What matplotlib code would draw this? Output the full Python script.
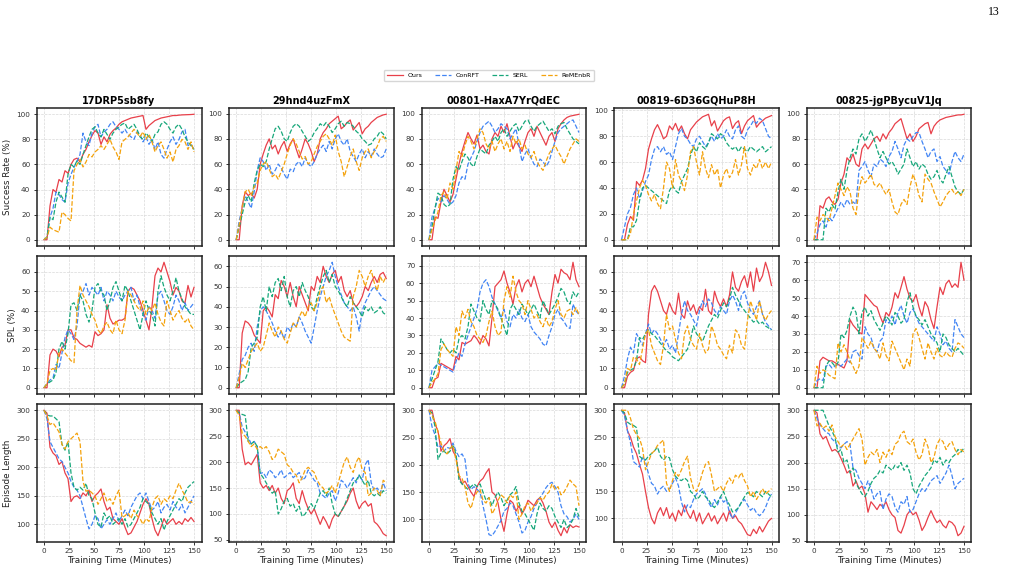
import numpy as np
import matplotlib.pyplot as plt
from matplotlib.ticker import MultipleLocator

minutes = np.arange(0, 151, 3)

methods = ["Ours", "ConRFT", "SERL", "ReMEnbR"]
colors = ["#e8404a", "#4285f4", "#17a77a", "#f4a20c"]
styles = ["-", "--", "--", "--"]

scenes = ["17DRP5sb8fy", "29hnd4uzFmX", "00801-HaxA7YrQdEC",
          "00819-6D36GQHuP8H", "00825-jgPBycuV1Jq"]
metrics = ["Success Rate (%)", "SPL (%)", "Episode Length"]

# ---------------- success rate ----------------
sr_17drp = {
    "Ours": [0, 0, 27, 40, 38, 48, 46, 55, 53, 60,
             64, 65, 62, 68, 72, 78, 83, 87, 85, 76,
             82, 78, 84, 87, 89, 92, 94, 95, 96, 97,
             97.5, 98, 98.5, 99, 88, 91, 93, 95, 96, 97,
             97.5, 98, 98.5, 99, 99, 99.3, 99.5, 99.6, 99.7, 99.8,
             100],
    "ConRFT": [0, 2, 18, 25, 38, 36, 32, 30, 45, 52,
               58, 62, 68, 85, 78, 75, 85, 90, 92, 82,
               86, 88, 92, 94, 90, 88, 85, 88, 84, 82,
               80, 86, 84, 78, 82, 76, 80, 72, 78, 68,
               65, 72, 78, 82, 76, 80, 86, 88, 75, 76,
               72],
    "SERL": [0, 2, 18, 16, 30, 38, 34, 30, 52, 60,
             58, 63, 60, 68, 75, 82, 88, 90, 85, 82,
             88, 84, 80, 85, 88, 90, 92, 93, 88, 90,
             92, 88, 82, 80, 85, 82, 78, 84, 86, 92,
             94, 92, 88, 85, 90, 92, 88, 82, 78, 75,
             72],
    "ReMEnbR": [0, 2, 10, 8, 7, 6, 22, 20, 17, 15,
                55, 60, 64, 58, 62, 68, 66, 70, 72, 75,
                72, 76, 80, 74, 70, 64, 78, 80, 82, 85,
                88, 85, 82, 86, 80, 84, 78, 70, 75, 78,
                72, 65, 70, 62, 72, 75, 80, 78, 72, 78,
                70],
}
sr_29hnd = {
    "Ours": [0, 0, 27, 38, 35, 37, 33, 40, 60, 68,
             75, 80, 72, 75, 68, 74, 78, 70, 76, 80,
             72, 65, 72, 80, 76, 70, 62, 68, 80, 85,
             88, 92, 94, 96, 98, 88, 90, 93, 95, 87,
             90, 93, 84, 88, 90, 93, 95, 97, 98, 99,
             99.5],
    "ConRFT": [0, 15, 25, 35, 30, 25, 38, 55, 65, 62,
               55, 60, 52, 55, 60, 57, 52, 48, 56, 54,
               60, 62, 58, 65, 60, 58, 62, 68, 72, 75,
               70, 78, 72, 80, 84, 78, 75, 80, 70, 66,
               62, 68, 72, 65, 70, 66, 72, 68, 65, 66,
               72],
    "SERL": [0, 10, 20, 30, 35, 30, 45, 55, 60, 58,
             62, 72, 80, 88, 90, 86, 80, 78, 85, 90,
             92, 90, 86, 82, 78, 80, 85, 88, 92, 90,
             93, 90, 85, 88, 92, 94, 90, 93, 92, 90,
             86, 84, 80, 78, 75, 76, 80, 82, 86, 84,
             80],
    "ReMEnbR": [0, 12, 25, 38, 40, 35, 42, 45, 55, 60,
                62, 56, 50, 52, 48, 54, 60, 68, 75, 80,
                76, 70, 64, 66, 60, 62, 68, 74, 78, 82,
                84, 80, 75, 83, 70, 62, 50, 58, 66, 72,
                62, 55, 65, 70, 72, 65, 70, 74, 80, 82,
                78],
}
sr_00801 = {
    "Ours": [0, 0, 18, 17, 30, 40, 35, 30, 36, 48,
             60, 70, 78, 85, 80, 76, 83, 72, 75, 70,
             68, 80, 85, 82, 90, 85, 92, 82, 72, 78,
             74, 70, 78, 85, 88, 82, 90, 85, 80, 75,
             82, 85, 78, 88, 92, 95, 97, 98, 98.5, 99,
             99.5],
    "ConRFT": [0, 18, 25, 33, 30, 35, 32, 28, 30, 35,
               45, 50, 48, 60, 65, 70, 78, 85, 90, 92,
               94, 90, 85, 88, 92, 90, 88, 80, 84, 88,
               75, 62, 68, 72, 65, 60, 58, 64, 62, 58,
               62, 70, 78, 85, 88, 90, 92, 94, 95, 90,
               85],
    "SERL": [0, 10, 25, 37, 35, 28, 26, 28, 48, 58,
             55, 62, 68, 65, 60, 58, 66, 72, 70, 68,
             75, 78, 82, 78, 85, 88, 82, 86, 90, 92,
             86, 90, 94, 95, 90, 86, 90, 92, 94, 90,
             86, 88, 84, 90, 92, 93, 88, 84, 80, 78,
             76],
    "ReMEnbR": [0, 8, 15, 22, 35, 38, 32, 45, 40, 55,
                70, 66, 75, 82, 78, 72, 80, 88, 85, 76,
                72, 78, 70, 76, 80, 72, 78, 70, 82, 76,
                80, 72, 75, 68, 65, 70, 62, 58, 55, 62,
                68, 72, 75, 70, 66, 60, 66, 72, 76, 80,
                78],
}
sr_00819 = {
    "Ours": [0, 0, 12, 18, 15, 45, 42, 46, 55, 70,
             78, 85, 89, 84, 78, 80, 88, 85, 90, 84,
             88, 82, 78, 85, 88, 91, 93, 95, 96, 97,
             88, 92, 84, 88, 92, 94, 95, 86, 90, 92,
             82, 88, 92, 94, 96, 87, 90, 92, 94, 95,
             96],
    "ConRFT": [0, 10, 20, 25, 35, 40, 32, 38, 45, 50,
               62, 70, 72, 68, 72, 66, 68, 62, 72, 82,
               86, 80, 78, 74, 72, 78, 80, 76, 72, 75,
               80, 76, 82, 78, 80, 85, 80, 78, 85, 88,
               80, 78, 85, 88, 92, 90, 94, 92, 86, 80,
               78],
    "SERL": [0, 0, 0, 10, 10, 15, 30, 40, 42, 40,
             38, 36, 34, 32, 30, 28, 38, 42, 38, 36,
             45, 50, 55, 65, 72, 68, 75, 72, 70, 75,
             82, 80, 78, 82, 80, 75, 72, 70, 72, 68,
             72, 70, 68, 72, 70, 68, 70, 72, 68, 70,
             72],
    "ReMEnbR": [0, 0, 0, 5, 20, 30, 40, 46, 42, 35,
                30, 35, 28, 24, 40, 60, 55, 40, 62, 50,
                45, 38, 50, 68, 72, 60, 50, 68, 55, 48,
                58, 50, 55, 40, 50, 55, 48, 52, 62, 50,
                58, 72, 55, 50, 58, 55, 62, 55, 60, 55,
                60],
}
sr_00825 = {
    "Ours": [0, 0, 27, 25, 32, 34, 30, 28, 32, 45,
             52, 65, 62, 68, 60, 58, 72, 76, 72, 76,
             80, 82, 78, 84, 80, 85, 88, 92, 94, 96,
             88, 80, 84, 78, 82, 88, 90, 92, 93, 84,
             90, 93, 95, 96, 97, 97.5, 98, 98.5, 99, 99,
             99.5],
    "ConRFT": [0, 5, 12, 15, 10, 18, 15, 20, 25, 30,
               26, 32, 28, 30, 28, 55, 58, 62, 55, 50,
               60, 58, 64, 62, 58, 66, 70, 78, 72, 65,
               75, 80, 78, 82, 85, 85, 78, 72, 65, 70,
               72, 62, 66, 58, 55, 52, 62, 70, 65, 62,
               68],
    "SERL": [0, 0, 0, 0, 25, 22, 28, 24, 38, 48,
             40, 55, 65, 72, 68, 80, 84, 78, 82, 87,
             80, 72, 65, 70, 65, 60, 62, 58, 52, 56,
             60, 72, 65, 58, 62, 56, 60, 58, 52, 48,
             50, 55, 48, 45, 52, 58, 50, 42, 38, 36,
             40],
    "ReMEnbR": [0, 18, 15, 20, 18, 15, 25, 35, 45, 40,
                35, 42, 38, 25, 20, 40, 50, 45, 48, 52,
                44, 42, 45, 40, 36, 40, 30, 22, 20, 28,
                32, 28, 42, 52, 45, 35, 30, 52, 48, 45,
                38, 32, 26, 30, 35, 38, 40, 36, 38, 35,
                40],
}

# ---------------- SPL ----------------
spl_17drp = {
    "Ours": [0, 0, 17, 20, 19, 16, 21, 22, 30, 30,
             26, 25, 23, 22, 21, 22, 21, 29, 27, 28,
             30, 43, 36, 33, 34, 35, 35, 36, 50, 52,
             51, 48, 45, 40, 35, 30, 42, 58, 62, 60,
             65, 60, 55, 48, 52, 50, 45, 44, 53, 47,
             52],
    "ConRFT": [0, 2, 4, 5, 12, 10, 18, 26, 30, 28,
               25, 32, 48, 50, 54, 48, 52, 50, 48, 52,
               45, 50, 48, 45, 50, 47, 45, 48, 50, 52,
               45, 48, 42, 38, 35, 42, 40, 36, 48, 50,
               45, 40, 38, 42, 48, 45, 40, 44, 40, 42,
               44],
    "SERL": [0, 2, 3, 4, 8, 20, 24, 20, 28, 43,
             44, 40, 48, 45, 38, 34, 40, 52, 54, 50,
             48, 40, 45, 52, 55, 50, 45, 53, 50, 45,
             40, 35, 30, 38, 45, 40, 38, 32, 50, 58,
             52, 48, 45, 50, 57, 50, 46, 42, 40, 38,
             38],
    "ReMEnbR": [0, 2, 9, 10, 9, 18, 20, 18, 16, 14,
                13, 40, 53, 48, 45, 42, 38, 35, 30, 28,
                32, 34, 30, 28, 35, 30, 28, 35, 50, 48,
                45, 42, 40, 45, 38, 42, 40, 44, 38, 34,
                32, 45, 40, 35, 38, 40, 36, 34, 36, 32,
                30],
}
spl_29hnd = {
    "Ours": [0, 0, 27, 33, 32, 30, 26, 24, 22, 38,
             40, 38, 35, 46, 44, 53, 50, 45, 52, 45,
             40, 50, 46, 42, 38, 50, 48, 55, 52, 60,
             55, 52, 56, 58, 52, 55, 48, 45, 48, 42,
             40, 42, 45, 50, 48, 52, 55, 52, 56, 57,
             54],
    "ConRFT": [0, 7, 14, 16, 20, 22, 18, 30, 38, 40,
               38, 35, 32, 28, 25, 28, 24, 30, 28, 32,
               30, 35, 32, 28, 25, 22, 30, 38, 45, 50,
               55, 58, 62, 55, 50, 46, 42, 40, 38, 40,
               35, 28, 38, 42, 45, 48, 50, 48, 46, 44,
               43],
    "SERL": [0, 2, 3, 4, 8, 20, 22, 25, 40, 45,
             38, 50, 45, 52, 54, 48, 55, 45, 40, 48,
             50, 45, 52, 48, 45, 40, 38, 45, 50, 55,
             58, 52, 56, 50, 48, 45, 42, 40, 45, 42,
             40, 38, 35, 40, 38, 40, 37, 38, 40, 37,
             36],
    "ReMEnbR": [0, 5, 12, 10, 14, 18, 20, 22, 18, 20,
                26, 32, 28, 25, 30, 28, 24, 22, 27, 32,
                30, 35, 38, 35, 40, 42, 38, 42, 48, 50,
                42, 45, 40, 36, 32, 28, 25, 24, 23, 45,
                50, 58, 55, 50, 55, 58, 52, 48, 55, 52,
                55],
}
spl_00801 = {
    "Ours": [0, 0, 5, 6, 14, 13, 12, 11, 10, 18,
             16, 26, 25, 26, 27, 30, 28, 25, 30, 28,
             24, 40, 58, 60, 62, 67, 60, 55, 48, 58,
             62, 55, 60, 62, 58, 64, 58, 52, 48, 45,
             42, 55, 65, 60, 68, 66, 65, 62, 72, 62,
             58],
    "ConRFT": [0, 10, 12, 14, 13, 12, 11, 10, 9, 15,
               20, 18, 25, 30, 35, 40, 45, 55, 60, 62,
               58, 52, 48, 44, 40, 45, 38, 35, 42, 40,
               45, 40, 38, 42, 35, 32, 30, 28, 25, 24,
               30, 35, 42, 45, 40, 38, 35, 34, 48, 44,
               42],
    "SERL": [0, 5, 10, 15, 28, 25, 22, 20, 22, 20,
             28, 30, 28, 35, 48, 44, 40, 38, 50, 45,
             42, 50, 48, 45, 40, 35, 30, 45, 48, 45,
             42, 48, 45, 42, 45, 48, 44, 40, 50, 46,
             42, 45, 48, 52, 57, 55, 50, 48, 55, 52,
             55],
    "ReMEnbR": [0, 3, 5, 8, 22, 25, 22, 20, 18, 35,
                30, 44, 40, 45, 38, 35, 30, 28, 26, 30,
                38, 44, 35, 30, 32, 50, 58, 52, 64, 55,
                50, 48, 42, 50, 45, 40, 42, 38, 35, 40,
                35, 38, 45, 50, 42, 40, 44, 45, 42, 46,
                42],
}
spl_00819 = {
    "Ours": [0, 0, 6, 8, 9, 15, 16, 14, 13, 38,
             50, 53, 50, 45, 40, 38, 44, 40, 38, 49,
             38, 36, 45, 40, 43, 38, 42, 40, 51, 40,
             38, 50, 45, 42, 46, 42, 48, 60, 52, 50,
             55, 58, 52, 60, 50, 62, 55, 58, 65, 60,
             53],
    "ConRFT": [0, 6, 15, 21, 18, 28, 25, 22, 28, 33,
               28, 30, 28, 25, 22, 25, 20, 22, 18, 28,
               38, 45, 40, 38, 35, 32, 40, 45, 42, 46,
               44, 40, 38, 42, 40, 38, 45, 48, 45, 40,
               48, 50, 44, 40, 38, 42, 45, 38, 34, 32,
               30],
    "SERL": [0, 2, 8, 9, 10, 14, 26, 25, 28, 30,
             28, 27, 25, 23, 21, 19, 18, 16, 15, 14,
             16, 18, 20, 25, 32, 28, 26, 24, 28, 32,
             35, 38, 36, 40, 44, 42, 46, 52, 48, 45,
             42, 40, 38, 36, 34, 35, 33, 34, 32, 31,
             30],
    "ReMEnbR": [0, 2, 10, 9, 16, 15, 12, 20, 28, 30,
                22, 18, 14, 12, 22, 38, 30, 32, 25, 18,
                15, 28, 32, 25, 22, 20, 28, 22, 18, 20,
                32, 28, 22, 20, 17, 15, 22, 18, 30, 28,
                22, 20, 35, 45, 40, 35, 45, 38, 35, 38,
                40],
}
spl_00825 = {
    "Ours": [0, 0, 15, 17, 16, 15, 15, 14, 13, 12,
             11, 15, 38, 35, 33, 31, 30, 52, 50, 48,
             46, 45, 40, 36, 42, 40, 45, 53, 50, 56,
             62, 55, 50, 48, 52, 45, 40, 48, 45, 38,
             33, 45, 56, 52, 58, 60, 56, 58, 56, 70,
             60],
    "ConRFT": [0, 4, 5, 4, 12, 13, 11, 12, 13, 12,
               14, 16, 14, 20, 21, 18, 16, 34, 30, 28,
               22, 20, 26, 28, 38, 36, 40, 35, 42, 46,
               40, 36, 42, 44, 40, 36, 34, 32, 30, 28,
               26, 34, 30, 24, 26, 22, 20, 38, 34, 30,
               28],
    "SERL": [0, 0, 0, 0, 12, 15, 14, 12, 14, 30,
             28, 32, 40, 45, 42, 30, 42, 45, 40, 43,
             38, 35, 32, 36, 40, 38, 35, 42, 40, 36,
             38, 48, 53, 45, 40, 38, 35, 38, 34, 30,
             28, 25, 20, 30, 28, 24, 22, 20, 22, 20,
             18],
    "ReMEnbR": [0, 12, 8, 10, 9, 7, 6, 5, 25, 20,
                24, 20, 15, 12, 8, 12, 28, 25, 22, 26,
                22, 20, 16, 25, 18, 15, 26, 22, 18, 14,
                10, 16, 12, 30, 33, 28, 22, 16, 25, 20,
                16, 22, 18, 17, 20, 18, 17, 22, 25, 24,
                22],
}

# ---------------- episode length ----------------
ep_17drp = {
    "Ours": [300, 295, 235, 225, 220, 205, 210, 190, 180, 140,
             148, 150, 145, 155, 150, 160, 140, 150, 155, 162,
             140, 125, 130, 110, 105, 100, 110, 95, 82, 85,
             95, 105, 120, 135, 145, 135, 110, 90, 80, 95,
             110, 100, 105, 110, 100, 105, 100, 110, 105, 112,
             105],
    "ConRFT": [300, 285, 245, 235, 225, 215, 210, 200, 190, 175,
               165, 160, 150, 130, 110, 92, 100, 115, 110, 92,
               100, 108, 100, 110, 120, 105, 115, 125, 115, 130,
               140, 150, 155, 145, 155, 140, 125, 130, 140, 120,
               130, 135, 125, 140, 130, 125, 135, 120, 130, 140,
               150],
    "SERL": [300, 292, 290, 290, 285, 280, 240, 230, 245, 190,
             165, 160, 165, 160, 172, 150, 145, 120, 100, 95,
             120, 110, 115, 100, 105, 110, 100, 110, 95, 100,
             110, 120, 130, 145, 140, 135, 120, 110, 100, 110,
             90, 105, 115, 125, 135, 145, 140, 155, 165, 170,
             175],
    "ReMEnbR": [300, 290, 275, 278, 270, 262, 240, 232, 245, 250,
                255, 260, 245, 175, 158, 160, 155, 150, 135, 145,
                155, 140, 145, 135, 150, 160, 112, 115, 120, 110,
                125, 115, 110, 100, 110, 105, 130, 145, 150, 135,
                145, 140, 150, 145, 160, 172, 160, 150, 138, 140,
                135],
}
ep_29hnd = {
    "Ours": [300, 300, 225, 195, 200, 195, 205, 215, 160, 150,
             155, 145, 155, 140, 150, 130, 120, 145, 150, 160,
             130, 120, 145, 125, 110, 100, 110, 95, 80, 95,
             85, 72, 90, 100, 95, 105, 115, 125, 140, 150,
             125, 110, 120, 125, 115, 120, 85, 80, 72, 62,
             58],
    "ConRFT": [300, 295, 268, 258, 248, 235, 240, 230, 178, 180,
               170, 185, 180, 170, 175, 185, 170, 175, 180, 170,
               175, 180, 165, 170, 185, 175, 165, 160, 140, 135,
               130, 140, 145, 125, 140, 165, 160, 150, 160, 170,
               160, 175, 165, 195, 205, 160, 145, 150, 140, 160,
               145],
    "SERL": [300, 295, 292, 290, 240, 235, 240, 230, 178, 170,
             160, 150, 140, 145, 100, 110, 125, 130, 115, 120,
             105, 115, 95, 100, 110, 120, 110, 125, 140, 145,
             135, 150, 120, 100, 95, 105, 115, 130, 145, 160,
             165, 175, 165, 155, 165, 140, 135, 140, 135, 145,
             140],
    "ReMEnbR": [300, 290, 255, 250, 240, 230, 235, 225, 230, 225,
                230, 220, 205, 210, 225, 220, 215, 195, 190, 180,
                175, 160, 170, 185, 190, 185, 180, 165, 155, 150,
                140, 145, 155, 140, 160, 180, 200, 210, 190, 180,
                200, 210, 185, 180, 135, 140, 150, 145, 135, 165,
                160],
}
ep_00801 = {
    "Ours": [300, 300, 275, 262, 225, 235, 240, 248, 225, 215,
             180, 165, 170, 160, 150, 142, 160, 170, 175, 185,
             193, 150, 145, 130, 100, 78, 110, 135, 130, 115,
             125, 110, 120, 135, 130, 125, 135, 140, 130, 115,
             95, 85, 95, 80, 70, 85, 75, 90, 85, 88,
             86],
    "ConRFT": [300, 270, 255, 232, 235, 225, 232, 230, 240, 225,
               215, 220, 210, 165, 155, 160, 155, 150, 125, 100,
               72, 70, 78, 88, 98, 115, 120, 130, 125, 110,
               95, 75, 80, 95, 105, 120, 130, 140, 148, 158,
               165, 168, 160, 150, 125, 110, 105, 95, 100, 110,
               100],
    "SERL": [300, 295, 270, 210, 222, 225, 220, 225, 235, 220,
             172, 165, 160, 155, 160, 165, 160, 165, 150, 135,
             140, 125, 140, 150, 140, 125, 135, 145, 150, 160,
             130, 115, 110, 100, 90, 80, 110, 130, 120, 115,
             125, 120, 105, 95, 85, 100, 85, 90, 100, 120,
             105],
    "ReMEnbR": [300, 290, 280, 260, 240, 225, 220, 230, 235, 210,
                180, 175, 160, 130, 120, 140, 150, 155, 135, 130,
                140, 110, 120, 135, 145, 140, 130, 145, 140, 150,
                100, 110, 125, 130, 115, 125, 130, 140, 135, 145,
                150, 165, 155, 160, 145, 150, 160, 172, 165, 160,
                125],
}
ep_00819 = {
    "Ours": [300, 295, 262, 250, 232, 220, 200, 182, 150, 120,
             100, 90, 110, 120, 105, 120, 100, 110, 95, 115,
             105, 125, 110, 100, 115, 95, 110, 90, 100, 110,
             95, 105, 90, 100, 110, 95, 115, 100, 105, 95,
             90, 80, 70, 68, 80, 72, 85, 75, 85, 95,
             100],
    "ConRFT": [300, 290, 262, 240, 205, 200, 195, 215, 205, 182,
               165, 160, 145, 155, 160, 150, 155, 165, 175, 160,
               130, 112, 125, 120, 135, 145, 150, 155, 145, 130,
               120, 135, 125, 140, 130, 135, 110, 100, 110, 120,
               130, 135, 125, 115, 120, 110, 105, 110, 120, 135,
               145],
    "SERL": [300, 295, 278, 274, 272, 268, 215, 210, 208, 215,
             220, 225, 232, 215, 208, 215, 212, 190, 178, 172,
             170, 175, 170, 150, 145, 135, 140, 150, 140, 135,
             125, 120, 130, 140, 150, 135, 125, 112, 115, 120,
             130, 140, 148, 145, 140, 150, 145, 140, 150, 145,
             140],
    "ReMEnbR": [300, 300, 300, 285, 265, 255, 248, 230, 190, 205,
                220, 225, 235, 240, 245, 165, 150, 170, 185, 178,
                190, 205, 215, 175, 155, 150, 165, 185, 200, 205,
                180, 150, 155, 160, 150, 165, 175, 165, 180, 175,
                185, 170, 160, 140, 150, 135, 145, 155, 145, 150,
                155],
}
ep_00825 = {
    "Ours": [300, 295, 255, 245, 250, 235, 222, 225, 220, 208,
             195, 180, 185, 155, 165, 150, 155, 140, 105, 125,
             118, 110, 120, 115, 125, 110, 100, 95, 70, 65,
             80, 100, 108, 100, 105, 90, 70, 80, 95, 108,
             95, 85, 90, 80, 75, 88, 85, 78, 60, 65,
             78],
    "ConRFT": [300, 285, 272, 265, 258, 255, 245, 240, 230, 228,
               235, 240, 235, 190, 185, 170, 160, 150, 165, 150,
               130, 140, 145, 110, 130, 140, 135, 115, 105, 125,
               120, 135, 105, 110, 125, 140, 150, 145, 155, 165,
               170, 175, 160, 170, 180, 195, 175, 150, 160, 165,
               170],
    "SERL": [300, 300, 300, 300, 285, 270, 260, 248, 220, 225,
             200, 205, 180, 190, 160, 150, 140, 135, 145, 160,
             170, 175, 185, 180, 195, 190, 185, 195, 190, 200,
             185, 195, 180, 150, 140, 155, 165, 175, 182, 190,
             205, 200, 210, 195, 205, 200, 210, 215, 225, 220,
             228],
    "ReMEnbR": [300, 270, 275, 265, 270, 260, 272, 250, 240, 230,
                235, 225, 235, 245, 255, 265, 245, 195, 210, 220,
                215, 225, 200, 220, 210, 225, 215, 235, 240, 255,
                260, 240, 235, 245, 220, 205, 215, 245, 230, 200,
                210, 235, 245, 240, 225, 235, 240, 225, 215, 225,
                220],
}

panels = [
    [sr_17drp, sr_29hnd, sr_00801, sr_00819, sr_00825],
    [spl_17drp, spl_29hnd, spl_00801, spl_00819, spl_00825],
    [ep_17drp, ep_29hnd, ep_00801, ep_00819, ep_00825],
]
ysteps = [20, 10, 50]

W, H = 1009, 572
fig = plt.figure(figsize=(W / 100, H / 100), dpi=100)

col_left = [36.5, 228.7, 421.5, 614, 806.5]
row_top = [108, 256, 404]
aw, ah = 165, 138

for r in range(3):
    for c in range(5):
        ax = fig.add_axes([col_left[c] / W, 1 - (row_top[r] + ah) / H, aw / W, ah / H])
        data = panels[r][c]
        for m, col, ls in zip(methods, colors, styles):
            vals = data[m]
            assert len(vals) == len(minutes), (r, c, m, len(vals))
            ax.plot(minutes, vals, color=col, ls=ls, lw=0.9, label=m)
        ax.xaxis.set_major_locator(MultipleLocator(25))
        ax.yaxis.set_major_locator(MultipleLocator(ysteps[r]))
        ax.grid(True, ls="--", lw=0.5, color="#d9d9d9")
        ax.set_axisbelow(True)
        ax.tick_params(labelsize=5.2, length=2.5, width=0.7, pad=2, colors="#333333")
        for s in ax.spines.values():
            s.set_linewidth(1.1)
            s.set_color("#222222")
        if r == 0:
            ax.set_title(scenes[c], fontsize=7, fontweight="bold", pad=3)
        if c == 0:
            ax.set_ylabel(metrics[r], fontsize=6.3, labelpad=3, color="#222222")
        if r == 2:
            ax.set_xlabel("Training Time (Minutes)", fontsize=6.4, labelpad=1, color="#222222")
        else:
            ax.tick_params(labelbottom=False)

handles, labels = fig.axes[0].get_legend_handles_labels()
fig.legend(handles, labels, loc="center", ncol=4, fontsize=4.5,
           bbox_to_anchor=(489 / W, 1 - 75.5 / H), frameon=True,
           handlelength=2.6, handletextpad=0.7, columnspacing=2.0,
           borderpad=0.5, edgecolor="#cccccc", fancybox=True)

fig.text(994 / W, 1 - 12 / H, "13", fontsize=8.5, family="Liberation Serif",
         ha="center", va="center")

fig.savefig("out.png", dpi=100, facecolor="white")
